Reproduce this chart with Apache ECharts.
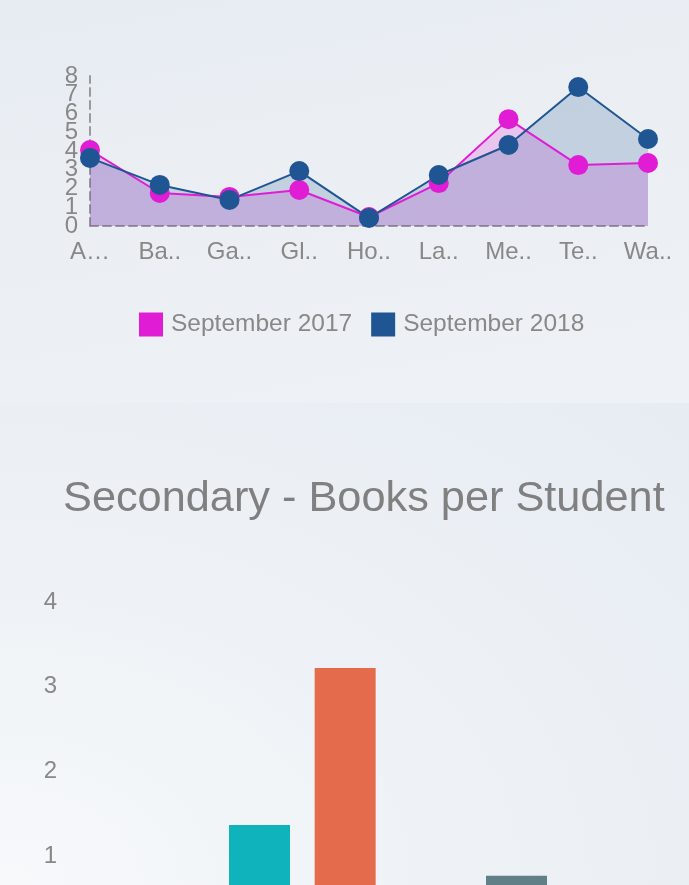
<!DOCTYPE html>
<html>
<head>
<meta charset="utf-8">
<script src="https://cdn.jsdelivr.net/npm/echarts@6/dist/echarts.min.js"></script>
<style>
	html, body {
		margin: 0;
		padding: 0;
		width: 689px;
		height: 885px;
		overflow: hidden;
	}
	.panel-top {
		position: absolute;
		left: 0; top: 0;
		width: 689px; height: 403px;
		background: linear-gradient(170deg, #e7ecf2 0%, #ebeff4 45%, #eef2f6 100%);
	}
	.panel-bottom {
		position: absolute;
		left: 0; top: 403px;
		width: 689px; height: 482px;
		background: radial-gradient(ellipse at 0% 100%, #f7f9fb 0%, #eef2f6 45%, #e7ecf3 100%);
	}
	#main {
		position: absolute;
		left: 0; top: 0;
		width: 689px; height: 885px;
	}
</style>
</head>
<body>
<div class="panel-top"></div>
<div class="panel-bottom"></div>
<div id="main"></div>
<script>
	// 上图：分校对比
	var schools = ['A…', 'Ba..', 'Ga..', 'Gl..', 'Ho..', 'La..', 'Me..', 'Te..', 'Wa..'];
	var sep2017 = [4.05, 1.76, 1.55, 1.92, 0.48, 2.29, 5.7, 3.25, 3.36];
	var sep2018 = [3.63, 2.19, 1.39, 2.93, 0.43, 2.72, 4.32, 7.41, 4.64];
	var lineTicks = [0, 8]; // min, max

	// 下图：Secondary - Books per Student
	var barCategories = ['1', '2', '3', '4', '5', '6'];
	var booksPerStudent = [0, 1.37, 3.22, 0, 0.77, 0];
	var barColors = ['#0fb3bc', '#0fb3bc', '#e56b4d', '#607f86', '#607f86', '#607f86'];
	var barTicks = [0, 4];

	var gray = '#888888';
	var font = 'Liberation Sans';

	// 刻度标签很挤，奇偶分两条轴画，免得被自动隐藏
	function lineYAxis(even, showLine) {
		return {
			gridIndex: 0,
			type: 'value',
			position: 'left',
			min: lineTicks[0],
			max: lineTicks[1],
			interval: 1,
			splitLine: { show: false },
			axisLine: { show: showLine, lineStyle: { color: '#9a9a9a', type: [8, 5], width: 2 } },
			axisTick: { show: false },
			axisLabel: {
				color: gray,
				fontSize: 24,
				margin: 12,
				showMinLabel: true,
				showMaxLabel: true,
				formatter: function (v) {
					return (v % 2 === 0) === even ? String(v) : '';
				}
			}
		};
	}

	var myChart = echarts.init(document.getElementById('main'));
	myChart.setOption({
		animation: false,
		textStyle: { fontFamily: font },
		title: [{
			text: 'Secondary - Books per Student',
			left: 58,
			top: 473,
			textStyle: { fontSize: 43.3, fontWeight: 'normal', color: '#808080', fontFamily: font }
		}],
		legend: {
			data: ['September 2017', 'September 2018'],
			left: 134,
			top: 307,
			itemWidth: 24,
			itemHeight: 24,
			itemGap: 19,
			icon: 'rect',
			textStyle: { fontSize: 24.5, color: gray, fontFamily: font, padding: [0, 0, 0, 3] }
		},
		grid: [{
			left: 90,
			right: 41,
			top: 76,
			height: 150,
			outerBoundsMode: 'none'
		}, {
			left: 131,
			right: 44,
			top: 602,
			height: 339,
			outerBoundsMode: 'none'
		}],
		xAxis: [{
			gridIndex: 0,
			type: 'category',
			boundaryGap: false,
			data: schools,
			axisLine: { lineStyle: { color: '#9a9a9a', type: [8, 5], width: 2 } },
			axisTick: { show: false },
			axisLabel: { color: gray, fontSize: 24, margin: 14 }
		}, {
			gridIndex: 1,
			type: 'category',
			data: barCategories,
			axisLine: { show: false },
			axisTick: { show: false },
			axisLabel: { show: false }
		}],
		yAxis: [lineYAxis(true, true), {
			gridIndex: 1,
			type: 'value',
			min: barTicks[0],
			max: barTicks[1],
			interval: 1,
			splitLine: { show: false },
			axisLine: { show: false },
			axisTick: { show: false },
			axisLabel: { color: gray, fontSize: 24, margin: 74 }
		}, lineYAxis(false, false)],
		series: [{
			name: 'September 2017',
			type: 'line',
			xAxisIndex: 0,
			yAxisIndex: 0,
			data: sep2017,
			symbol: 'circle',
			symbolSize: 20,
			color: '#e01cd5',
			lineStyle: { width: 2 },
			areaStyle: { color: '#e01cd5', opacity: 0.2 }
		}, {
			name: 'September 2018',
			type: 'line',
			xAxisIndex: 0,
			yAxisIndex: 0,
			data: sep2018,
			symbol: 'circle',
			symbolSize: 20,
			color: '#1f5592',
			lineStyle: { width: 2 },
			areaStyle: { color: '#1f5592', opacity: 0.2 }
		}, {
			name: 'Books per Student',
			type: 'bar',
			xAxisIndex: 1,
			yAxisIndex: 1,
			barWidth: 61,
			data: booksPerStudent.map(function (v, i) {
				return { value: v, itemStyle: { color: barColors[i] } };
			})
		}]
	});
</script>
</body>
</html>
